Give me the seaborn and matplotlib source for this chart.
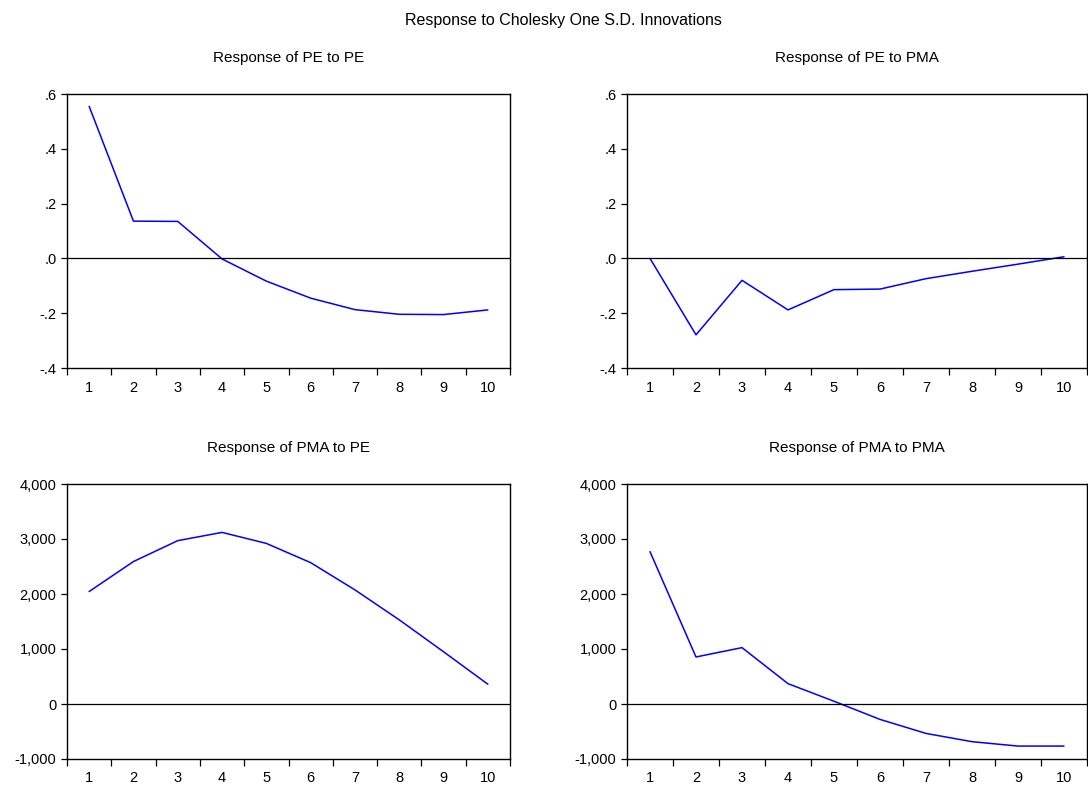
import matplotlib
matplotlib.use("Agg")
import matplotlib.pyplot as plt
import matplotlib.ticker as mticker
import seaborn as sns
import pandas as pd

periods = [1, 2, 3, 4, 5, 6, 7, 8, 9, 10]
pe_to_pe = [0.555, 0.136, 0.135, -0.002, -0.083, -0.145, -0.187, -0.204, -0.205, -0.188]
pe_to_pma = [0.0, -0.279, -0.080, -0.188, -0.114, -0.112, -0.074, -0.047, -0.021, 0.006]
pma_to_pe = [2045, 2590, 2970, 3120, 2920, 2570, 2075, 1530, 950, 360]
pma_to_pma = [2770, 855, 1025, 370, 50, -280, -535, -685, -765, -765]

titles = ["Response of PE to PE", "Response of PE to PMA",
          "Response of PMA to PE", "Response of PMA to PMA"]
series = [pe_to_pe, pe_to_pma, pma_to_pe, pma_to_pma]
suptitle = "Response to Cholesky One S.D. Innovations"

sns.set_style("white")
plt.rcParams['font.family'] = ['Liberation Sans', 'DejaVu Sans']
plt.rcParams['text.color'] = 'black'
plt.rcParams['xtick.color'] = 'black'
plt.rcParams['ytick.color'] = 'black'
plt.rcParams['axes.labelcolor'] = 'black'

fig = plt.figure(figsize=(10.88, 7.85), dpi=100)
W, H = 1088, 785
boxes = [(67, 94, 510, 368), (627, 94, 1087, 368),
         (67, 484, 510, 759), (627, 484, 1087, 759)]

for i, (box, title, vals) in enumerate(zip(boxes, titles, series)):
    x0, y0, x1, y1 = box
    ax = fig.add_axes([x0 / W, 1 - y1 / H, (x1 - x0) / W, (y1 - y0) / H])
    df = pd.DataFrame({"period": periods, "value": vals})
    sns.lineplot(data=df, x="period", y="value", ax=ax, color="#0000ff", lw=1.1)
    ax.axhline(0, color="black", lw=0.9)
    ax.set_xlim(0.5, 10.5)
    if i < 2:
        ax.set_ylim(-0.4, 0.6)
        ax.set_yticks([-0.4, -0.2, 0.0, 0.2, 0.4, 0.6])
        ax.set_yticklabels(["-.4", "-.2", ".0", ".2", ".4", ".6"])
    else:
        ax.set_ylim(-1000, 4000)
        ax.set_yticks([-1000, 0, 1000, 2000, 3000, 4000])
        ax.yaxis.set_major_formatter(mticker.FuncFormatter(lambda v, p: f"{int(v):,}"))
    ax.set_xticks(periods)
    ax.set_xticklabels([str(p) for p in periods])
    ax.xaxis.set_minor_locator(mticker.FixedLocator([p - 0.5 for p in periods] + [10.5]))
    ax.tick_params(axis="x", which="major", length=0, pad=9, labelsize=10.5, colors="black")
    ax.tick_params(axis="x", which="minor", length=5, width=0.9, direction="out", bottom=True, colors="black")
    ax.tick_params(axis="y", which="major", length=4, width=0.9, direction="out", left=True,
                   labelsize=10.5, colors="black")
    ax.set_xlabel("")
    ax.set_ylabel("")
    for s in ax.spines.values():
        s.set_color("black")
        s.set_linewidth(1.0)
    ax.set_title(title, fontsize=11, pad=23, color="black")

fig.text(563 / W, 1 - 20 / H, suptitle, ha="center", va="center", fontsize=11.5, color="black")
fig.savefig("out.png", dpi=100)
